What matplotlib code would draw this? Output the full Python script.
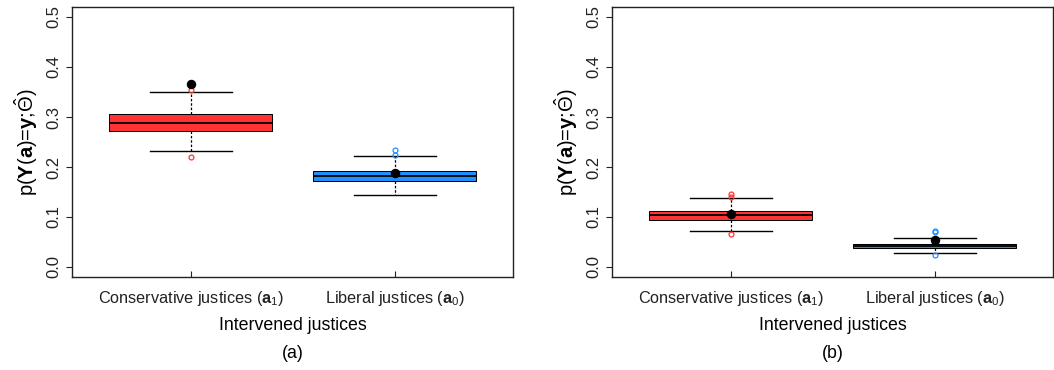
import matplotlib
matplotlib.use("Agg")
import matplotlib.pyplot as plt

plt.rcParams['font.family'] = ['Liberation Sans', 'DejaVu Sans']
plt.rcParams['mathtext.fontset'] = 'custom'
plt.rcParams['mathtext.rm'] = 'Liberation Sans'
plt.rcParams['mathtext.bf'] = 'Liberation Sans:bold'
plt.rcParams['mathtext.it'] = 'Liberation Sans:italic'

# data
groups = [r"Conservative justices ($\mathbf{a}_1$)", r"Liberal justices ($\mathbf{a}_0$)"]
colors = ["#FF3333", "#1E90FF"]
panels = ["(a)", "(b)"]

# panel (a)
q1_a = [0.272, 0.173]
med_a = [0.289, 0.183]
q3_a = [0.306, 0.192]
wlo_a = [0.232, 0.145]
whi_a = [0.351, 0.223]
fliers_a = [[0.355, 0.221], [0.235, 0.224]]
mean_a = [0.366, 0.188]

# panel (b)
q1_b = [0.095, 0.039]
med_b = [0.104, 0.043]
q3_b = [0.113, 0.047]
wlo_b = [0.072, 0.028]
whi_b = [0.138, 0.059]
fliers_b = [[0.147, 0.141, 0.067], [0.073, 0.070, 0.025]]
mean_b = [0.106, 0.055]

panel_data = [
    (q1_a, med_a, q3_a, wlo_a, whi_a, fliers_a, mean_a),
    (q1_b, med_b, q3_b, wlo_b, whi_b, fliers_b, mean_b),
]

W, H = 1054, 370
fig = plt.figure(figsize=(W / 100, H / 100), dpi=100)

lefts = [72, 612]
for k, (q1, med, q3, wlo, whi, fl, mn) in enumerate(panel_data):
    ax = fig.add_axes([lefts[k] / W, (H - 277) / H, 441 / W, 270 / H])
    for i in range(2):
        st = dict(q1=q1[i], med=med[i], q3=q3[i], whislo=wlo[i], whishi=whi[i],
                  fliers=fl[i], label="")
        ax.bxp([st], positions=[i + 1], widths=0.8, patch_artist=True,
               showfliers=True, showcaps=True,
               boxprops=dict(facecolor=colors[i], edgecolor="black", linewidth=0.75),
               medianprops=dict(color="black", linewidth=1.3),
               whiskerprops=dict(color="black", linestyle=(0, (2, 1.5)), linewidth=0.9),
               capprops=dict(color="black", linewidth=1.0),
               capwidths=0.4,
               flierprops=dict(marker="o", markerfacecolor="none",
                               markeredgecolor=colors[i], markersize=3.5,
                               markeredgewidth=0.9))
    ax.plot([1, 2], mn, "o", color="black", markersize=5.8, linestyle="none", zorder=5)

    ax.set_xlim(0.417, 2.58)
    ax.set_ylim(-0.02, 0.52)
    ax.set_yticks([0.0, 0.1, 0.2, 0.3, 0.4, 0.5])
    ax.set_yticklabels(["0.0", "0.1", "0.2", "0.3", "0.4", "0.5"],
                       rotation=90, va="center", fontsize=12)
    ax.set_xticks([1, 2])
    ax.set_xticklabels(groups, fontsize=11.7)
    ax.tick_params(axis="y", direction="out", length=4, width=0.8, pad=4, colors="#222222")
    ax.tick_params(axis="x", direction="in", length=4.5, width=0.8, pad=9, colors="#222222")
    for s in ax.spines.values():
        s.set_linewidth(1.0)
        s.set_color("#222222")
    ax.set_ylabel(r"p($\mathbf{Y}$($\mathbf{a}$)=$\mathbf{y}$;$\hat{\Theta}$)",
                  fontsize=14.5, labelpad=4)
    ax.set_xlabel("Intervened justices", fontsize=12.8, labelpad=6)
    ax.text(0.5, -0.285, panels[k], transform=ax.transAxes, ha="center",
            va="center", fontsize=12.8)

fig.savefig("out.png", dpi=100)
